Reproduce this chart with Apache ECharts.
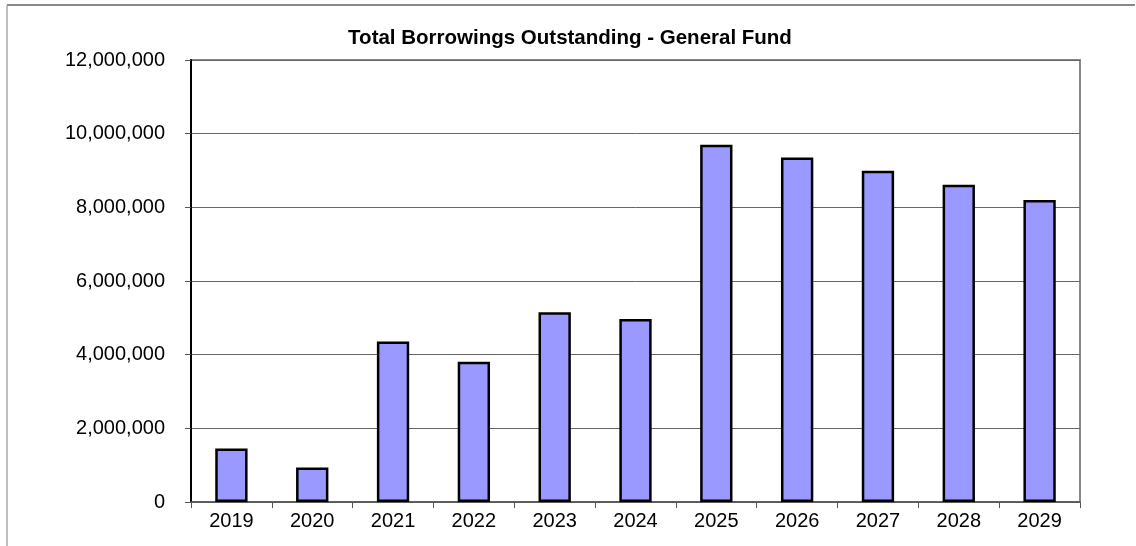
<!DOCTYPE html>
<html><head><meta charset="utf-8">
<script src="https://cdn.jsdelivr.net/npm/echarts@6/dist/echarts.min.js"></script>
<style>html,body{margin:0;padding:0;background:#fff}#c{width:1136px;height:546px}</style>
</head><body><div id="c"></div>
<script>
const categories = ['2019','2020','2021','2022','2023','2024','2025','2026','2027','2028','2029'];
const borrowings = [1450000, 940000, 4360000, 3810000, 5150000, 4970000, 9700000, 9350000, 8990000, 8610000, 8200000];
const yTicks = [0, 2000000, 4000000, 6000000, 8000000, 10000000, 12000000];
const titleText = 'Total Borrowings Outstanding - General Fund';

const chart = echarts.init(document.getElementById('c'), null, {renderer: 'canvas'});
const fmt = v => v.toString().replace(/\B(?=(\d{3})+(?!\d))/g, ',');
chart.setOption({
  animation: false,
  backgroundColor: '#fff',
  title: {
    text: titleText, left: 565, top: 23, textAlign: 'center',
    textStyle: {fontFamily: 'Liberation Sans, Arial', fontWeight: 'bold', fontSize: 20.5, color: '#000'}
  },
  graphic: [
    {type: 'line', shape: {x1: 7, y1: 5, x2: 1135, y2: 5}, style: {stroke: '#606060', lineWidth: 1.5}},
    {type: 'line', shape: {x1: 7, y1: 5, x2: 7, y2: 546}, style: {stroke: '#a8a8a8', lineWidth: 1.5}}
  ],
  grid: {left: 191, top: 60, right: 56, bottom: 44, show: true, borderColor: '#888', borderWidth: 2, backgroundColor: '#fff'},
  xAxis: {
    type: 'category', data: categories,
    axisLine: {lineStyle: {color: '#555', width: 1.5}},
    axisTick: {show: true, length: 6, lineStyle: {color: '#555'}},
    axisLabel: {fontFamily: 'Liberation Sans, Arial', fontSize: 20, color: '#000', margin: 9}
  },
  yAxis: {
    type: 'value', min: yTicks[0], max: yTicks[yTicks.length-1], interval: yTicks[1]-yTicks[0],
    axisLine: {show: true, lineStyle: {color: '#000', width: 2}},
    axisTick: {show: true, length: 6, lineStyle: {color: '#555'}},
    splitLine: {lineStyle: {color: '#666', width: 1}},
    axisLabel: {fontFamily: 'Liberation Sans, Arial', fontSize: 20, color: '#000', margin: 26, formatter: fmt}
  },
  series: [{
    type: 'bar', data: borrowings, barWidth: '40%',
    itemStyle: {color: '#9999FF', borderColor: '#000', borderWidth: 2.5}
  }]
});
</script></body></html>
